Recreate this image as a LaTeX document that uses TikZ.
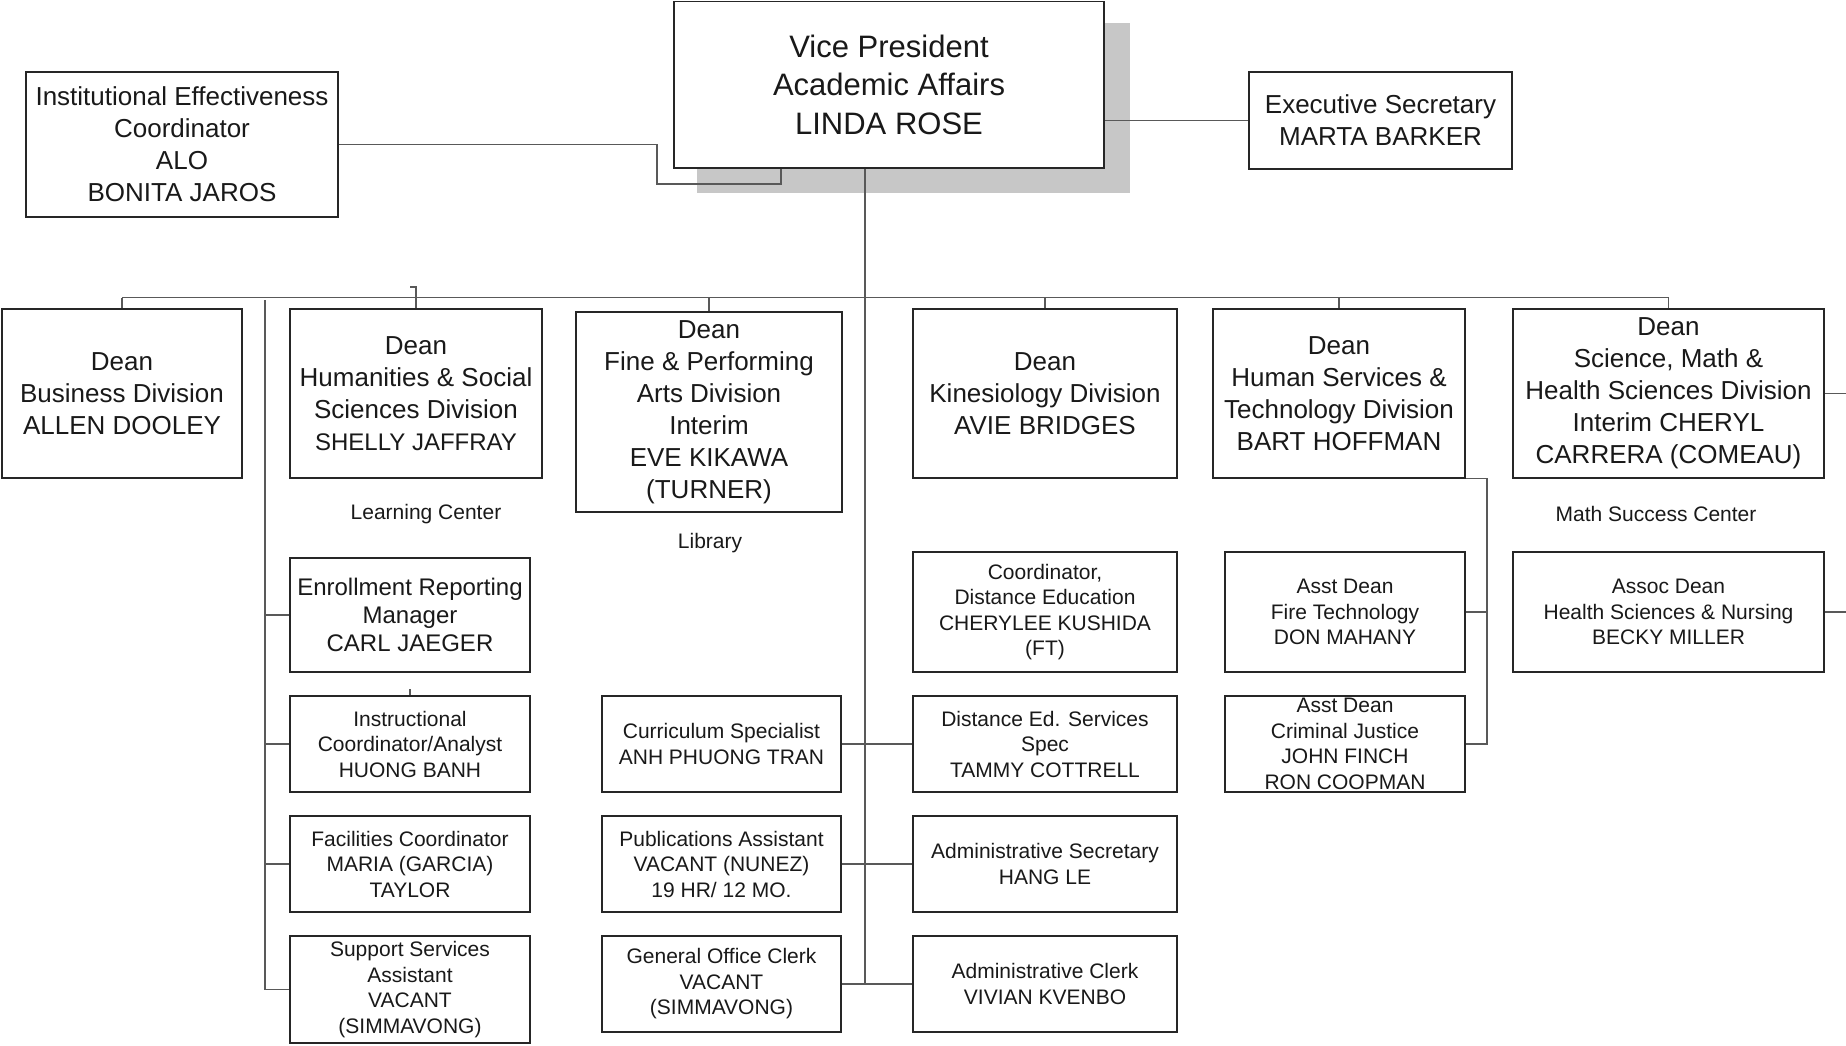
\documentclass[tikz,border=0pt]{standalone}
\usepackage{fontspec}
\setmainfont{Liberation Sans}
\newcommand{\vpfont}{\fontsize{31}{38.5}\selectfont}
\newcommand{\deanfont}{\fontsize{26}{32}\selectfont}
\newcommand{\midfont}{\fontsize{24}{28}\selectfont}
\newcommand{\stafffont}{\fontsize{21}{25.5}\selectfont}
\tikzset{
  box/.style={draw=black!85, line width=1.6pt, fill=white, align=center, inner sep=0pt, text=black!90},
  dean/.style={box, font=\deanfont, minimum height=169pt},
  staff/.style={box, font=\stafffont, minimum height=96pt},
  conn/.style={draw=black!65, line width=1.1pt},
  note/.style={font=\stafffont, text=black!90, inner sep=0pt}
}
\begin{document}
\begin{tikzpicture}[x=1pt,y=-1pt]
	\useasboundingbox (0,0) rectangle (1846,1045);
	% top row
	\fill[black!22] (697,23) rectangle (1130,193);
	\node[box, font=\vpfont, minimum width=430pt, minimum height=166.5pt] (vp) at (889,84.75) {Vice President\\Academic Affairs\\LINDA ROSE};
	\node[box, font=\deanfont, minimum width=312pt, minimum height=145pt] (ie) at (182,144.5) {Institutional Effectiveness\\Coordinator\\ALO\\BONITA JAROS};
	\node[box, font=\deanfont, minimum width=263pt, minimum height=97pt] (exec) at (1380.5,120.5) {Executive Secretary\\MARTA BARKER};
	% deans
	\node[dean, minimum width=240pt] (business) at (122,393.5) {Dean\\Business Division\\ALLEN DOOLEY};
	\node[dean, minimum width=252pt] (hum) at (416,393.5) {Dean\\Humanities \& Social\\Sciences Division\\{\fontsize{24}{32}\selectfont SHELLY JAFFRAY}};
	\node[dean, minimum width=266pt, minimum height=200pt] (fine) at (709,412) {Dean\\Fine \& Performing\\Arts Division\\Interim\\EVE KIKAWA\\(TURNER)};
	\node[dean, minimum width=264pt] (kin) at (1045,393.5) {Dean\\Kinesiology Division\\AVIE BRIDGES};
	\node[dean, minimum width=252pt] (humserv) at (1339,393.5) {Dean\\Human Services \&\\Technology Division\\BART HOFFMAN};
	\node[dean, minimum width=311pt] (science) at (1668.5,393.5) {Dean\\Science, Math \&\\Health Sciences Division\\Interim CHERYL\\CARRERA (COMEAU)};
	% centers
	\node[note] (learn) at (426,514) {Learning Center};
	\node[note] (library) at (710,543) {Library};
	\node[note] (mathsc) at (1656,514) {Math Success Center};
	% left column
	\node[box, font=\midfont, minimum width=240pt, minimum height=114pt] (enroll) at (410,615) {Enrollment Reporting\\Manager\\CARL JAEGER};
	\node[staff, minimum width=240pt] (instr) at (410,744) {Instructional\\Coordinator/Analyst\\HUONG BANH};
	\node[staff, minimum width=240pt] (facil) at (410,864) {Facilities Coordinator\\MARIA (GARCIA)\\TAYLOR};
	\node[staff, minimum width=240pt, minimum height=107pt] (support) at (410,989.5) {Support Services\\Assistant\\VACANT\\(SIMMAVONG)};
	% middle column
	\node[staff, minimum width=239pt] (curric) at (721.5,744) {Curriculum Specialist\\ANH PHUONG TRAN};
	\node[staff, minimum width=239pt] (pubs) at (721.5,864) {Publications Assistant\\VACANT (NUNEZ)\\19 HR/ 12 MO.};
	\node[staff, minimum width=239pt] (general) at (721.5,984) {General Office Clerk\\VACANT\\(SIMMAVONG)};
	% kinesiology column
	\node[staff, minimum width=264pt, minimum height=120pt] (coordde) at (1045,612) {Coordinator,\\Distance Education\\CHERYLEE KUSHIDA\\(FT)};
	\node[staff, minimum width=264pt] (disted) at (1045,744) {Distance Ed. Services\\Spec\\TAMMY COTTRELL};
	\node[staff, minimum width=264pt] (adminsec) at (1045,864) {Administrative Secretary\\HANG LE};
	\node[staff, minimum width=264pt] (adminclerk) at (1045,984) {Administrative Clerk\\VIVIAN KVENBO};
	% human services / science
	\node[staff, minimum width=240pt, minimum height=120pt] (fire) at (1345,612) {Asst Dean\\Fire Technology\\DON MAHANY};
	\node[staff, minimum width=240pt] (cj) at (1345,744) {Asst Dean\\Criminal Justice\\JOHN FINCH\\RON COOPMAN};
	\node[staff, minimum width=311pt, minimum height=120pt] (assoc) at (1668.5,612) {Assoc Dean\\Health Sciences \& Nursing\\BECKY MILLER};
	% connectors
	\coordinate (iebend) at (657,184);
	\coordinate (vpfoot) at (865,983);
	\coordinate (bus) at (0,297.5);
	\coordinate (lefttop) at (265,300);
	\coordinate (hsx) at (1487,0);
	\coordinate (edge) at (1846,0);
	\draw[conn] (ie.east) -| (iebend) -| ([xshift=-108pt]vp.south);
	\draw[conn] (vp.east |- exec.west) -- (exec.west);
	\draw[conn] ([xshift=-24pt]vp.south) -- (vpfoot);
	\draw[conn] (business.north |- bus) -- (science.north |- bus);
	\foreach \d in {business,hum,fine,kin,humserv,science}
		\draw[conn] (\d.north |- bus) -- (\d.north);
	\draw[conn] ([xshift=-6pt]hum.north |- 0,287) -- (hum.north |- 0,287) -- (hum.north |- bus);
	\draw[conn] (lefttop) |- (support.west);
	\foreach \s in {enroll,instr,facil}
		\draw[conn] (\s.west -| lefttop) -- (\s.west);
	\draw[conn] ([yshift=6pt]instr.north) -- (instr.north);
	\draw[conn] (curric.east) -- (disted.west);
	\draw[conn] (pubs.east) -- (adminsec.west);
	\draw[conn] (general.east) -- (adminclerk.west);
	\draw[conn] (humserv.south east) -| (cj.east -| hsx) -- (cj.east);
	\draw[conn] (fire.east) -- (fire.east -| hsx);
	\draw[conn] (science.east) -- (science.east -| edge);
	\draw[conn] (assoc.east) -- (assoc.east -| edge);
\end{tikzpicture}
\end{document}
